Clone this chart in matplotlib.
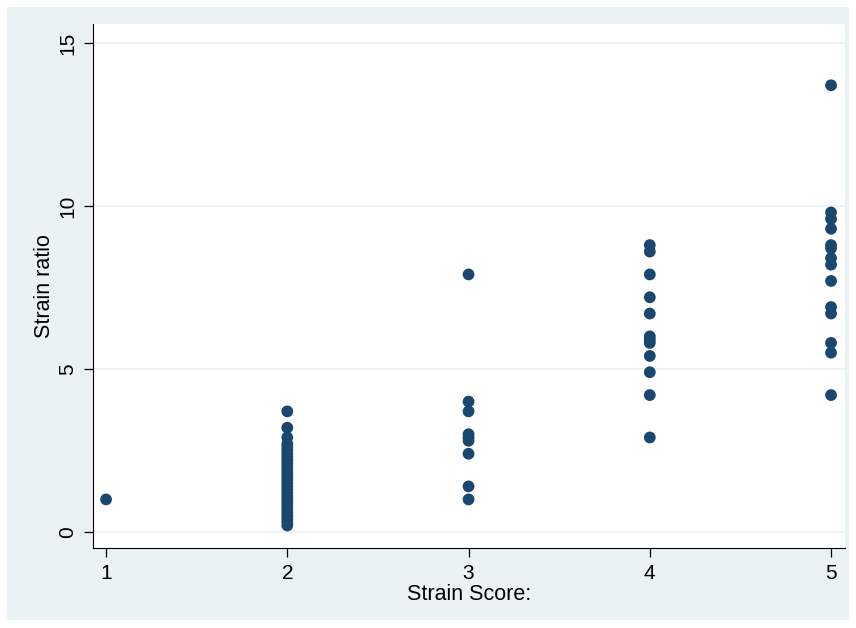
import matplotlib
matplotlib.use("Agg")
import matplotlib.pyplot as plt
from matplotlib.patches import Rectangle

# strain score groups and the strain ratios
score1 = [1.0]
score2 = [3.7, 3.2, 2.9, 2.7, 2.6, 2.5, 2.4, 2.3, 2.2, 2.1, 2.0, 1.9, 1.8, 1.7,
          1.6, 1.5, 1.4, 1.3, 1.2, 1.1, 1.0, 0.9, 0.8, 0.7, 0.6, 0.5, 0.4, 0.3, 0.2]
score3 = [7.9, 4.0, 3.7, 3.0, 2.9, 2.8, 2.4, 1.4, 1.0]
score4 = [8.8, 8.6, 7.9, 7.2, 6.7, 6.0, 5.9, 5.8, 5.4, 4.9, 4.2, 2.9]
score5 = [13.7, 9.8, 9.6, 9.3, 8.8, 8.7, 8.4, 8.2, 7.7, 6.9, 6.7, 5.8, 5.5, 4.2]

groups = [1, 2, 3, 4, 5]
ratios = [score1, score2, score3, score4, score5]
yticks = [0, 5, 10, 15]

bg = "#eaf2f3"
navy = "#1a476f"
plt.rcParams["font.family"] = ["Liberation Sans", "DejaVu Sans"]

fig = plt.figure(figsize=(8.56, 6.28), dpi=100, facecolor="white")
fig.patches.append(Rectangle((7 / 856, 1 - 620 / 628), 842 / 856, 613 / 628,
                             transform=fig.transFigure, facecolor=bg,
                             edgecolor="none", zorder=-5))

ax = fig.add_axes([93 / 856, 1 - 548 / 628, 752 / 856, 524 / 628])
ax.set_facecolor("white")

xs = []
ys = []
for g, vals in zip(groups, ratios):
    xs += [g] * len(vals)
    ys += vals
ax.scatter(xs, ys, s=72, color=navy, edgecolors="none", zorder=3)

ax.set_xlim(0.928, 5.077)
ax.set_ylim(-0.49, 15.58)
ax.set_xticks(groups)
ax.set_yticks(yticks)
for t in yticks:
    ax.axhline(t, color=bg, lw=1.2, zorder=1)

for s in ["top", "right"]:
    ax.spines[s].set_visible(False)
ax.spines["left"].set_color("black")
ax.spines["bottom"].set_color("black")
ax.tick_params(length=6.5, width=0.9, labelsize=15, pad=5)
plt.setp(ax.get_yticklabels(), rotation=90, va="center")

ax.set_xlabel("Strain Score:", fontsize=15.5, labelpad=1)
ax.set_ylabel("Strain ratio", fontsize=15.5, labelpad=2)

fig.savefig("out.png", dpi=100, facecolor=fig.get_facecolor())
